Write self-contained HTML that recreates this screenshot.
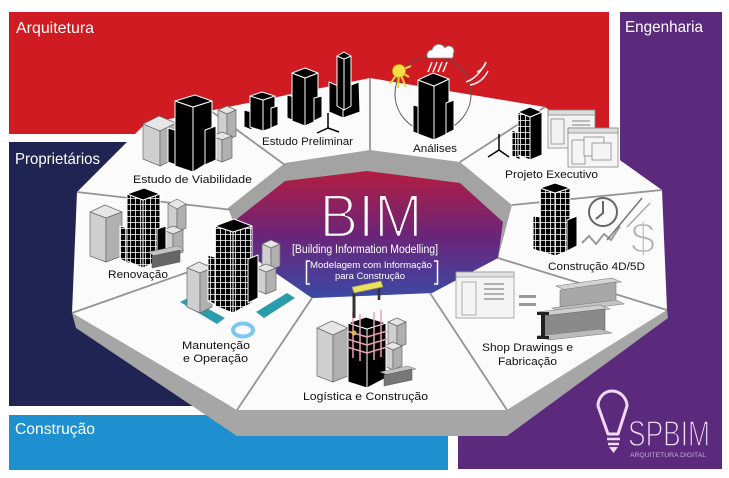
<!DOCTYPE html>
<html><head><meta charset="utf-8">
<style>
html,body{margin:0;padding:0;background:#fff;width:729px;height:478px;overflow:hidden}
svg{display:block}
text{font-family:"Liberation Sans",Arial,sans-serif}
.k{fill:#000;stroke:#fff;stroke-width:1;stroke-linejoin:round}
.gr{stroke:#fff;stroke-width:1;stroke-linejoin:round}
.g1{fill:#cfcfcf;stroke:#6a6a6a;stroke-width:.7;stroke-linejoin:round}
.g2{fill:#b0b0b0;stroke:#6a6a6a;stroke-width:.7;stroke-linejoin:round}
.g3{fill:#e6e6e6;stroke:#6a6a6a;stroke-width:.7;stroke-linejoin:round}
.lb{font-size:11px;fill:#111}
.ttl{font-size:16px;fill:#fff}
.rl{stroke:#949494;stroke-width:1.8;fill:none}
</style></head>
<body>
<svg width="729" height="478" viewBox="0 0 729 478" xmlns="http://www.w3.org/2000/svg">
<defs>
  <linearGradient id="pg" gradientUnits="userSpaceOnUse" x1="0" y1="172" x2="0" y2="300">
    <stop offset="0" stop-color="#b11d42"/>
    <stop offset="0.5" stop-color="#6a2579"/>
    <stop offset="1" stop-color="#3a4aa6"/>
  </linearGradient>
  <pattern id="gp" width="5" height="6" patternUnits="userSpaceOnUse">
    <rect width="5" height="6" fill="#000"/>
    <path d="M0 0.5H5M0.5 0V6" stroke="#fff" stroke-width="0.8"/>
  </pattern>
</defs>

<rect width="729" height="478" fill="#fff"/>

<!-- panels -->
<rect x="9" y="12" width="600" height="122" fill="#cf1b21"/>
<path d="M620 12H722V469H458V300H620Z" fill="#5c2a7c"/>
<rect x="9" y="142" width="330" height="264" fill="#1f2452"/>
<rect x="9" y="415" width="439" height="55" fill="#1e8fcf"/>

<!-- slab thickness -->
<polygon points="72,313 237,410 507,410 667,310 668,318 507,436 237,436 76,328" fill="#a6a6a6"/>
<!-- top surface -->
<polygon points="370,78 545,107 662,190 667,310 507,410 237,410 72,313 77,192 145,124" fill="#fbfbfb"/>
<!-- inner gray wall -->
<polygon points="228,208 285,163 370,150 460,162 512,205 498,258 432,293 312,298 245,252" fill="#a3a3a3"/>
<!-- purple center -->
<polygon points="233,222 285,181 367,171 460,183 503,222 498,258 432,293 312,298 245,252" fill="url(#pg)"/>

<!-- radial divider lines -->
<line class="rl" x1="370" y1="78" x2="370" y2="150"/>
<line class="rl" x1="545" y1="107" x2="460" y2="162"/>
<line class="rl" x1="662" y1="190" x2="512" y2="205"/>
<line class="rl" x1="667" y1="310" x2="498" y2="258"/>
<line class="rl" x1="507" y1="410" x2="430" y2="293"/>
<line class="rl" x1="237" y1="410" x2="312" y2="298"/>
<line class="rl" x1="72" y1="313" x2="245" y2="252"/>
<line class="rl" x1="77" y1="192" x2="233" y2="210"/>
<line class="rl" x1="207" y1="108" x2="285" y2="165"/>

<!-- ===== Estudo de Viabilidade ===== -->
<polygon class="g3" points="218,110 227,106 236,110 227,114"/>
<polygon class="g1" points="218,110 227,114 227,140 218,136"/>
<polygon class="g2" points="227,114 236,110 236,136 227,140"/>
<polygon class="g3" points="212,136 222,132 232,136 222,140"/>
<polygon class="g1" points="212,136 222,140 222,162 212,158"/>
<polygon class="g2" points="222,140 232,136 232,158 222,162"/>
<polygon class="g1" points="143,124 160,131 160,166 143,159"/>
<polygon class="g2" points="160,131 176,123 176,158 160,166"/>
<polygon class="g3" points="143,124 159,116 176,123 160,131"/>
<polygon class="k" points="168,128 178,131 178,166 168,162"/>
<polygon class="k" points="175,101 193,107 193,172 175,166"/>
<polygon class="k" points="193,107 212,101 212,160 193,172"/>
<polygon class="k" points="175,101 195,95 212,101 193,107"/>
<polygon class="k" points="205,130 216,126 216,160 205,165"/>

<!-- ===== Estudo Preliminar ===== -->
<polygon class="k" points="244,110 252,112 252,130 244,127"/>
<polygon class="k" points="250,96 263,100 263,131 250,127"/>
<polygon class="k" points="263,100 275,96 275,127 263,131"/>
<polygon class="k" points="250,96 262,92 275,96 263,100"/>
<polygon class="k" points="271,108 278,106 278,125 271,128"/>
<polygon class="k" points="287,95 295,97 295,121 287,118"/>
<polygon class="k" points="292,73 305,78 305,126 292,121"/>
<polygon class="k" points="305,78 318,73 318,120 305,126"/>
<polygon class="k" points="292,73 305,68 318,73 305,78"/>
<polygon class="k" points="314,98 322,96 322,117 314,121"/>
<polygon class="k" points="329,82 343,88 343,118 329,112"/>
<polygon class="k" points="343,88 359,82 360,112 343,118"/>
<polygon class="k" points="337,56 344,59 344,110 337,106"/>
<polygon class="k" points="344,59 351,56 351,106 344,110"/>
<polygon class="k" points="337,56 344,52 351,56 344,59"/>
<g stroke="#000" stroke-width="1.5"><line x1="328" y1="128" x2="328" y2="113"/><line x1="328" y1="128" x2="317" y2="133"/><line x1="328" y1="128" x2="339" y2="132"/></g>

<!-- ===== Análises ===== -->
<circle cx="433" cy="94" r="38" fill="none" stroke="#555" stroke-width="1"/>
<g stroke="#f2d640" stroke-width="2">
  <line x1="399" y1="71" x2="398" y2="88"/><line x1="399" y1="71" x2="406" y2="87"/>
  <line x1="399" y1="71" x2="390" y2="84"/><line x1="399" y1="71" x2="411" y2="66"/><line x1="399" y1="71" x2="409" y2="77"/>
</g>
<circle cx="399" cy="71" r="6.5" fill="#f7dc4a" stroke="#c9a800" stroke-width=".8"/>
<path d="M428,58 a5,5 0 0 1 4,-8 a7,7 0 0 1 13,-2 a5,5 0 0 1 8,6 a3,3 0 0 1 -1,4 Z" fill="#fff" stroke="#888" stroke-width=".8"/>
<g stroke="#f4f4f4" stroke-width="1.5"><line x1="432" y1="62" x2="428" y2="72"/><line x1="437" y1="62" x2="433" y2="72"/><line x1="442" y1="62" x2="438" y2="72"/><line x1="447" y1="62" x2="443" y2="72"/></g>
<g stroke="#f4f4f4" stroke-width="1.5" fill="none"><path d="M466,82 q12,-4 20,-20"/><path d="M470,85 q12,-2 18,-14"/><path d="M477,72 q7,-3 9,-10"/></g>
<polygon class="k" points="413,105 421,107 421,135 413,132"/>
<polygon class="k" points="418,80 434,86 434,140 418,134"/>
<polygon class="k" points="434,86 449,79 449,133 434,140"/>
<polygon class="k" points="418,80 433,73 449,79 434,86"/>
<polygon class="k" points="446,103 454,100 454,130 446,134"/>

<!-- ===== Projeto Executivo ===== -->
<g stroke="#000" stroke-width="1.5"><line x1="499" y1="150" x2="499" y2="134"/><line x1="499" y1="150" x2="488" y2="157"/><line x1="499" y1="150" x2="509" y2="157"/></g>
<polygon class="gr" fill="url(#gp)" points="512,130 520,133 520,160 512,156"/>
<polygon class="gr" fill="url(#gp)" points="518,112 530,117 530,160 518,155"/>
<polygon class="k" points="530,117 542,112 542,155 530,160"/>
<polygon class="k" points="518,112 530,107 542,112 530,117"/>
<rect x="548" y="110" width="47" height="38" fill="#f3f3f3" stroke="#888" stroke-width=".8"/>
<rect x="548" y="110" width="47" height="5" fill="#ddd" stroke="#888" stroke-width=".8"/>
<rect x="551" y="119" width="13" height="25" fill="none" stroke="#888" stroke-width=".8"/>
<g stroke="#999" stroke-width="1.3"><line x1="572" y1="121" x2="590" y2="121"/><line x1="572" y1="125" x2="590" y2="125"/><line x1="572" y1="129" x2="590" y2="129"/></g>
<rect x="568" y="128" width="50" height="39" fill="#f5f5f5" stroke="#888" stroke-width=".8"/>
<rect x="568" y="128" width="50" height="5" fill="#ddd" stroke="#888" stroke-width=".8"/>
<rect x="572" y="140" width="13" height="24" fill="none" stroke="#888" stroke-width=".8"/>
<rect x="584" y="137" width="20" height="19" fill="#f5f5f5" stroke="#888" stroke-width=".8"/>
<rect x="592" y="143" width="19" height="17" fill="#f5f5f5" stroke="#888" stroke-width=".8"/>

<!-- ===== Construção 4D/5D ===== -->
<polygon class="gr" fill="url(#gp)" points="533,215 543,218 543,253 533,249"/>
<polygon class="gr" fill="url(#gp)" points="540,188 555,193 555,256 540,251"/>
<polygon class="gr" fill="url(#gp)" points="555,193 570,188 570,250 555,256"/>
<polygon class="k" points="540,188 555,183 570,188 555,193"/>
<polygon class="k" points="567,220 577,216 577,246 567,251"/>
<circle cx="603" cy="212" r="14" fill="none" stroke="#666" stroke-width="2"/>
<path d="M603,201 V213 L596,219" stroke="#666" stroke-width="2" fill="none"/>
<polyline points="582,243 589,236 596,244 604,234 611,240 620,226" fill="none" stroke="#999" stroke-width="2"/>
<line x1="607" y1="240" x2="642" y2="198" stroke="#777" stroke-width="1.5"/>
<line x1="627" y1="227" x2="650" y2="203" stroke="#aaa" stroke-width="1.5"/>
<text x="643" y="253" font-size="44" fill="#b2b2b2" stroke="#fbfbfb" stroke-width="1.6" text-anchor="middle">$</text>

<!-- ===== Shop Drawings ===== -->
<rect x="456" y="272" width="58" height="46" fill="#f4f4f4" stroke="#999" stroke-width=".8"/>
<rect x="456" y="272" width="58" height="5" fill="#e0e0e0" stroke="#999" stroke-width=".8"/>
<rect x="462" y="282" width="14" height="33" fill="none" stroke="#999" stroke-width=".8"/>
<g stroke="#999" stroke-width="1.5"><line x1="484" y1="284" x2="504" y2="284"/><line x1="484" y1="289" x2="504" y2="289"/><line x1="484" y1="294" x2="504" y2="294"/><line x1="484" y1="299" x2="504" y2="299"/></g>
<rect x="519" y="295" width="17" height="3" fill="#999"/>
<rect x="519" y="303" width="17" height="3" fill="#999"/>
<polygon points="556,286 612,278 621,282 565,290" fill="#d4d4d4" stroke="#777" stroke-width=".6"/>
<polygon points="560,290 616,282 616,301 560,309" fill="#a8a8a8" stroke="#777" stroke-width=".6"/>
<polygon points="552,308 616,300 624,304 560,312" fill="#c2c2c2" stroke="#777" stroke-width=".6"/>
<polygon points="537,312 600,305 610,309 547,316" fill="#cfcfcf" stroke="#777" stroke-width=".6"/>
<polygon points="542,316 605,309 605,330 542,337" fill="#8a8a8a" stroke="#666" stroke-width=".6"/>
<polygon points="537,336 600,329 612,333 549,340" fill="#bbb" stroke="#777" stroke-width=".6"/>
<rect x="537" y="312" width="12" height="3" fill="#222"/>
<rect x="541" y="315" width="4" height="21" fill="#222"/>
<rect x="537" y="336" width="12" height="3" fill="#222"/>

<!-- ===== Logística ===== -->
<polygon class="g3" points="317,328 332,321 348,328 333,335"/>
<polygon class="g1" points="317,328 333,335 333,382 317,376"/>
<polygon class="g2" points="333,335 348,328 348,376 333,382"/>
<polygon class="g3" points="388,322 397,318 406,322 397,326"/>
<polygon class="g1" points="388,322 397,326 397,348 388,344"/>
<polygon class="g2" points="397,326 406,322 406,344 397,348"/>
<polygon class="g3" points="384,346 393,342 402,346 393,350"/>
<polygon class="g1" points="384,346 393,350 393,370 384,366"/>
<polygon class="g2" points="393,350 402,346 402,366 393,370"/>
<polygon class="k" points="348,323 367,329 367,388 348,382"/>
<polygon class="k" points="367,329 386,323 386,378 367,388"/>
<polygon class="k" points="348,323 366,317 386,323 367,329"/>
<g stroke="#e8a0b4" stroke-width="1.5">
  <line x1="347" y1="331" x2="367" y2="337"/><line x1="347" y1="339" x2="367" y2="345"/><line x1="347" y1="347" x2="367" y2="353"/>
  <line x1="367" y1="337" x2="387" y2="331"/><line x1="367" y1="345" x2="387" y2="339"/><line x1="367" y1="353" x2="387" y2="347"/>
  <line x1="353" y1="312" x2="353" y2="358"/><line x1="360" y1="314" x2="360" y2="361"/><line x1="374" y1="312" x2="374" y2="360"/><line x1="381" y1="310" x2="381" y2="357"/>
</g>
<line x1="354" y1="318" x2="354" y2="292" stroke="#333" stroke-width="3"/>
<line x1="379" y1="300" x2="379" y2="286" stroke="#333" stroke-width="2.5"/>
<polygon points="352,287 381,281 383,287 354,293" fill="#ece25a" stroke="#887" stroke-width=".8"/>
<circle cx="354" cy="333" r="2.5" fill="#d9b84a"/>
<polygon points="380,372 408,366 416,369 388,375" fill="#c4c4c4" stroke="#777" stroke-width=".5"/>
<polygon points="384,375 412,369 412,380 384,386" fill="#777" stroke="#555" stroke-width=".5"/>

<!-- ===== Manutenção ===== -->
<polygon points="180,302 188,298 225,318 217,324" fill="#2a9cab"/>
<polygon points="256,312 287,293 295,298 264,318" fill="#2a9cab"/>
<ellipse cx="243" cy="330" rx="10" ry="6.5" fill="none" stroke="#7dc8ee" stroke-width="4"/>
<polygon class="g3" points="262,244 271,240 280,244 271,248"/>
<polygon class="g1" points="262,244 271,248 271,270 262,266"/>
<polygon class="g2" points="271,248 280,244 280,266 271,270"/>
<polygon class="g3" points="256,268 266,264 276,268 266,272"/>
<polygon class="g1" points="256,268 266,272 266,294 256,290"/>
<polygon class="g2" points="266,272 276,268 276,290 266,294"/>
<polygon class="g3" points="187,268 199,262 212,268 200,273"/>
<polygon class="g1" points="187,268 200,273 200,313 187,307"/>
<polygon class="g2" points="200,273 212,268 212,307 200,313"/>
<polygon class="gr" fill="url(#gp)" points="208,255 218,258 218,306 208,301"/>
<polygon class="gr" fill="url(#gp)" points="215,226 233,232 233,313 215,306"/>
<polygon class="gr" fill="url(#gp)" points="233,232 252,226 252,303 233,313"/>
<polygon class="k" points="215,226 234,219 252,226 233,232"/>
<polygon class="k" points="248,259 258,255 258,298 248,303"/>

<!-- ===== Renovação ===== -->
<polygon class="g3" points="90,212 105,205 122,212 106,218"/>
<polygon class="g1" points="90,212 106,218 106,262 90,256"/>
<polygon class="g2" points="106,218 122,212 122,256 106,262"/>
<polygon class="g3" points="168,204 177,199 186,204 177,209"/>
<polygon class="g1" points="168,204 177,209 177,232 168,228"/>
<polygon class="g2" points="177,209 186,204 186,228 177,232"/>
<polygon class="g3" points="163,230 173,226 183,230 173,234"/>
<polygon class="g1" points="163,230 173,234 173,256 163,252"/>
<polygon class="g2" points="173,234 183,230 183,252 173,256"/>
<polygon class="gr" fill="url(#gp)" points="120,226 130,229 130,264 120,259"/>
<polygon class="gr" fill="url(#gp)" points="127,194 143,200 143,268 127,261"/>
<polygon class="gr" fill="url(#gp)" points="143,200 160,194 160,260 143,268"/>
<polygon class="k" points="127,194 144,188 160,194 143,200"/>
<polygon class="k" points="157,229 166,226 166,258 157,262"/>
<polygon points="148,252 178,246 184,250 154,256" fill="#c4c4c4" stroke="#777" stroke-width=".5"/>
<polygon points="152,256 180,250 180,262 152,268" fill="#666" stroke="#555" stroke-width=".5"/>

<!-- ===== Panel titles ===== -->
<text class="ttl" x="16" y="33" textLength="78" lengthAdjust="spacingAndGlyphs">Arquitetura</text>
<text class="ttl" x="625" y="32" textLength="78" lengthAdjust="spacingAndGlyphs">Engenharia</text>
<text class="ttl" x="15" y="164" textLength="85" lengthAdjust="spacingAndGlyphs">Proprietários</text>
<text class="ttl" x="15" y="434" textLength="80" lengthAdjust="spacingAndGlyphs">Construção</text>

<!-- ===== Sector labels ===== -->
<text class="lb" x="192.5" y="183" text-anchor="middle" textLength="119" lengthAdjust="spacingAndGlyphs">Estudo de Viabilidade</text>
<text class="lb" x="307.5" y="145" text-anchor="middle" textLength="91" lengthAdjust="spacingAndGlyphs">Estudo Preliminar</text>
<text class="lb" x="435" y="152" text-anchor="middle" textLength="44" lengthAdjust="spacingAndGlyphs">Análises</text>
<text class="lb" x="551.5" y="178" text-anchor="middle" textLength="93" lengthAdjust="spacingAndGlyphs">Projeto Executivo</text>
<text class="lb" x="596.5" y="270" text-anchor="middle" textLength="97" lengthAdjust="spacingAndGlyphs">Construção 4D/5D</text>
<text class="lb" x="138" y="278" text-anchor="middle" textLength="60" lengthAdjust="spacingAndGlyphs">Renovação</text>
<text class="lb" x="216" y="349" text-anchor="middle" textLength="68" lengthAdjust="spacingAndGlyphs">Manutenção</text>
<text class="lb" x="215.5" y="362" text-anchor="middle" textLength="65" lengthAdjust="spacingAndGlyphs">e Operação</text>
<text class="lb" x="365.5" y="400" text-anchor="middle" textLength="125" lengthAdjust="spacingAndGlyphs">Logística e Construção</text>
<text class="lb" x="527.5" y="351" text-anchor="middle" textLength="91" lengthAdjust="spacingAndGlyphs">Shop Drawings e</text>
<text class="lb" x="527.5" y="365" text-anchor="middle" textLength="59" lengthAdjust="spacingAndGlyphs">Fabricação</text>

<!-- ===== BIM center ===== -->
<text x="371" y="237" font-size="61" text-anchor="middle" textLength="103" lengthAdjust="spacingAndGlyphs" fill="#fff" stroke="url(#pg)" stroke-width="2.4">BIM</text>
<text x="365" y="253" font-size="11.5" fill="#fff" text-anchor="middle" textLength="146" lengthAdjust="spacingAndGlyphs">[Building Information Modelling]</text>
<text x="371" y="268" font-size="9.5" fill="#fff" text-anchor="middle" textLength="122" lengthAdjust="spacingAndGlyphs">Modelagem com Informação</text>
<text x="370" y="279" font-size="9.5" fill="#fff" text-anchor="middle" textLength="70" lengthAdjust="spacingAndGlyphs">para Construção</text>
<path d="M310,261 H306.5 V284 H310" fill="none" stroke="#fff" stroke-width="1.5"/>
<path d="M434,261 H437.5 V284 H434" fill="none" stroke="#fff" stroke-width="1.5"/>

<!-- ===== Logo ===== -->
<path d="M612,391 C604,391 598,398 598,406 L608,434 L618,434 L627,406 C627,398 620,391 612,391 Z" fill="none" stroke="#efd9f5" stroke-width="3" stroke-linejoin="round"/>
<line x1="607" y1="439" x2="620" y2="439" stroke="#efd9f5" stroke-width="2.5"/>
<line x1="608" y1="444" x2="619" y2="444" stroke="#efd9f5" stroke-width="2.5"/>
<polygon points="609,447 618,447 613.5,453" fill="#efd9f5"/>
<text x="628" y="446" font-size="36" textLength="82" lengthAdjust="spacingAndGlyphs" fill="#eedcf5" stroke="#5c2a7c" stroke-width="1.4">SPBIM</text>
<text x="630" y="457" font-size="6.5" textLength="76" lengthAdjust="spacingAndGlyphs" fill="#c9a9dc">ARQUITETURA DIGITAL</text>
</svg>
</body></html>
